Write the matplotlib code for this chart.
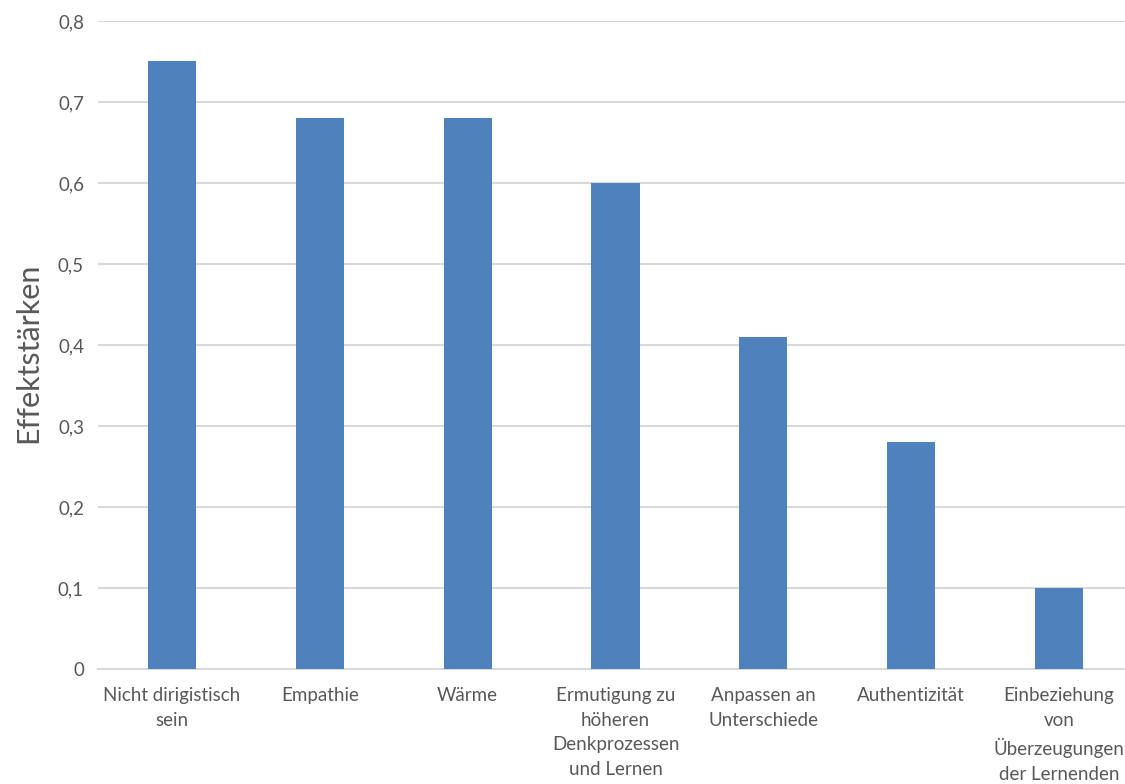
import numpy as np
import matplotlib.pyplot as plt

categories = [
    "Nicht dirigistisch\nsein",
    "Empathie",
    "Wärme",
    "Ermutigung zu\nhöheren\nDenkprozessen\nund Lernen",
    "Anpassen an\nUnterschiede",
    "Authentizität",
    "Einbeziehung\nvon\nÜberzeugungen\nder Lernenden",
]
effects = [0.75, 0.68, 0.68, 0.60, 0.41, 0.28, 0.10]
yticks = [0, 0.1, 0.2, 0.3, 0.4, 0.5, 0.6, 0.7, 0.8]
ytick_labels = ["0", "0,1", "0,2", "0,3", "0,4", "0,5", "0,6", "0,7", "0,8"]

plt.rcParams["font.family"] = ["Lato", "DejaVu Sans"]
text_color = "#595959"
grid_color = "#d9d9d9"

fig = plt.figure(figsize=(11.25, 7.84), dpi=100)
ax = fig.add_axes([98 / 1125, 115 / 784, 1035 / 1125, 648 / 784])

x = np.arange(len(categories))
ax.bar(x, effects, width=0.325, color="#4f81bd", zorder=3)

ax.set_xlim(-0.5, len(categories) - 0.5)
ax.set_ylim(0, 0.8)
ax.set_yticks(yticks)
ax.set_yticklabels(ytick_labels)
ax.set_xticks(x)
ax.set_xticklabels(categories, linespacing=1.55)

ax.yaxis.grid(True, color=grid_color, lw=1.5, zorder=0)
for s in ["top", "right", "left"]:
    ax.spines[s].set_visible(False)
ax.spines["bottom"].set_color(grid_color)
ax.spines["bottom"].set_linewidth(1.5)
ax.tick_params(axis="both", length=0, colors=text_color, labelsize=13.5)
ax.tick_params(axis="y", pad=10)
ax.tick_params(axis="x", pad=13)

ax.set_ylabel("Effektstärken", fontsize=22, color=text_color)
ax.yaxis.set_label_coords(-56 / 1035, 0.488)

fig.savefig("out.png", dpi=100)
